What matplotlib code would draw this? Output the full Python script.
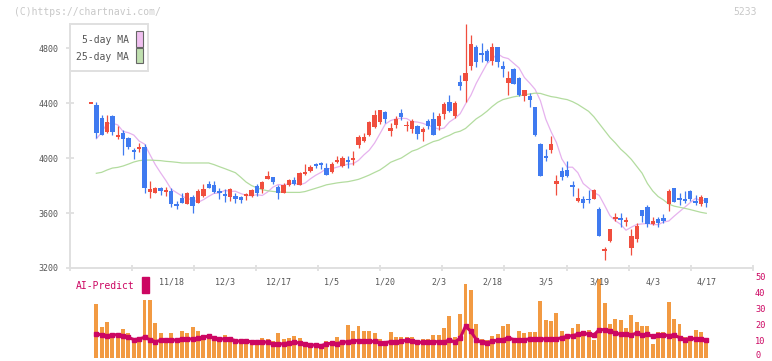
import numpy as np
import pandas as pd
import matplotlib
matplotlib.use('Agg')
import matplotlib.pyplot as plt
import matplotlib.transforms as mtransforms
from matplotlib.patches import Rectangle

# daily candles, 10/27 .. 4/17 (index 0 is the reference dash)
open_ = [4400, 4388, 4291, 4189, 4305, 4155, 4184, 4143, 4058, 4072,
         4080, 3750, 3748, 3784, 3755, 3760, 3668, 3709, 3668, 3716,
         3675, 3724, 3811, 3804, 3762, 3738, 3714, 3724, 3716, 3726,
         3724, 3796, 3777, 3850, 3862, 3791, 3748, 3804, 3838, 3806,
         3884, 3905, 3949, 3961, 3927, 3898, 3970, 3942, 3978, 3988,
         4097, 4126, 4167, 4228, 4264, 4332, 4199, 4243, 4327, 4235,
         4213, 4233, 4187, 4269, 4284, 4235, 4320, 4407, 4305, 4553,
         4560, 4672, 4807, 4757, 4778, 4708, 4805, 4669, 4545, 4647,
         4579, 4453, 4451, 4371, 4102, 4015, 4061, 3814, 3903, 3913,
         3802, 3690, 3702, 3700, 3704, 3627, 3321, 3396, 3563, 3556,
         3540, 3348, 3409, 3622, 3641, 3522, 3554, 3564, 3663, 3782,
         3706, 3694, 3758, 3690, 3668, 3707]
high = [4400, 4407, 4310, 4313, 4313, 4233, 4204, 4155, 4075, 4107,
        4099, 3833, 3792, 3792, 3792, 3784, 3690, 3743, 3753, 3733,
        3777, 3811, 3835, 3835, 3784, 3775, 3782, 3743, 3724, 3748,
        3775, 3808, 3833, 3905, 3862, 3804, 3816, 3845, 3862, 3896,
        3956, 3946, 3963, 3971, 3963, 3968, 4015, 4015, 4015, 4051,
        4167, 4182, 4272, 4349, 4349, 4344, 4252, 4305, 4359, 4269,
        4281, 4240, 4223, 4286, 4332, 4325, 4407, 4458, 4415, 4604,
        4975, 4894, 4822, 4836, 4793, 4836, 4805, 4703, 4633, 4655,
        4591, 4495, 4470, 4371, 4107, 4066, 4160, 3876, 3937, 3978,
        3830, 3782, 3724, 3767, 3775, 3641, 3353, 3484, 3600, 3600,
        3571, 3484, 3525, 3622, 3658, 3573, 3573, 3595, 3777, 3782,
        3743, 3758, 3767, 3731, 3729, 3707]
low = [4400, 4143, 4165, 4179, 4167, 4136, 4022, 4066, 3995, 4046,
       3748, 3712, 3743, 3731, 3724, 3646, 3627, 3670, 3663, 3602,
       3670, 3719, 3779, 3743, 3704, 3682, 3690, 3670, 3670, 3694,
       3719, 3724, 3748, 3845, 3814, 3699, 3743, 3799, 3804, 3801,
       3876, 3898, 3930, 3922, 3876, 3893, 3961, 3935, 3927, 3947,
       4075, 4114, 4160, 4221, 4247, 4257, 4162, 4221, 4276, 4196,
       4184, 4138, 4126, 4211, 4167, 4204, 4284, 4335, 4293, 4495,
       4410, 4640, 4664, 4701, 4701, 4679, 4664, 4587, 4461, 4536,
       4451, 4417, 4373, 4160, 3872, 3981, 4039, 3734, 3840, 3864,
       3724, 3683, 3634, 3670, 3699, 3433, 3258, 3392, 3540, 3496,
       3508, 3295, 3392, 3537, 3496, 3515, 3501, 3527, 3615, 3678,
       3658, 3670, 3690, 3658, 3653, 3646]
close = [4400, 4184, 4170, 4262, 4189, 4160, 4141, 4083, 4044, 4080,
         3784, 3775, 3782, 3760, 3762, 3663, 3653, 3675, 3743, 3653,
         3760, 3775, 3784, 3755, 3748, 3729, 3775, 3700, 3692, 3731,
         3767, 3748, 3826, 3869, 3826, 3743, 3804, 3838, 3814, 3889,
         3898, 3934, 3944, 3956, 3879, 3956, 3985, 4000, 3973, 4000,
         4155, 4155, 4260, 4313, 4349, 4286, 4216, 4284, 4301, 4238,
         4269, 4172, 4211, 4233, 4170, 4305, 4393, 4342, 4400, 4526,
         4618, 4829, 4701, 4752, 4708, 4805, 4701, 4650, 4582, 4541,
         4458, 4495, 4424, 4167, 3872, 3998, 4102, 3830, 3864, 3872,
         3797, 3709, 3670, 3697, 3767, 3435, 3336, 3484, 3566, 3554,
         3545, 3433, 3506, 3581, 3518, 3539, 3527, 3544, 3758, 3683,
         3702, 3690, 3700, 3670, 3716, 3670]
# closes before the first candle (feed the 5-day MA)
prior_close = [3950, 3850, 4250, 4250]

ma25 = [np.nan, 3889, 3896, 3913, 3927, 3932, 3942, 3956, 3971, 3981,
        3985, 3985, 3983, 3981, 3976, 3973, 3969, 3964, 3964, 3964,
        3964, 3964, 3964, 3952, 3937, 3923, 3908, 3893, 3860, 3825,
        3800, 3783, 3770, 3762, 3757, 3753, 3751, 3750, 3750, 3750,
        3756, 3768, 3780, 3792, 3805, 3812, 3819, 3824, 3828, 3836,
        3845, 3860, 3876, 3895, 3913, 3940, 3969, 3985, 4000, 4025,
        4050, 4063, 4083, 4102, 4120, 4130, 4150, 4165, 4185, 4195,
        4215, 4250, 4285, 4310, 4340, 4375, 4405, 4425, 4435, 4445,
        4452, 4460, 4466, 4472, 4470, 4458, 4447, 4441, 4432, 4425,
        4410, 4390, 4365, 4340, 4300, 4250, 4200, 4150, 4110, 4065,
        4030, 3990, 3940, 3890, 3815, 3760, 3720, 3695, 3665, 3650,
        3642, 3634, 3625, 3615, 3605, 3598]

volume = [0, 33.5, 19.2, 22.3, 14.6, 14.6, 18.3, 15.4, 12.1, 12.5,
          36, 36, 21.9, 15.4, 12.1, 15.4, 12.1, 16.7, 15.4, 19.2,
          17.1, 12.1, 13.3, 11.3, 11.3, 14.6, 13.3, 12.1, 12.1, 12.1,
          8.3, 9.6, 12.5, 12.1, 10.8, 15.8, 12.1, 12.5, 13.8, 12.5,
          10, 7.1, 7.5, 7.9, 10.8, 10.8, 13.3, 10.8, 20.8, 17.1,
          20, 17.1, 17.1, 15.8, 12, 10.5, 16.5, 13.3, 13.3, 12.9,
          13.3, 10.6, 12, 12, 14.4, 14.4, 18.8, 26.3, 13.3, 27.7,
          46.5, 42.3, 21, 12, 11.2, 13.8, 15.2, 20.2, 21.5, 10.6,
          17, 15.4, 16, 16.5, 35.8, 24, 23.3, 27.9, 17, 12.9,
          19, 21, 16.5, 17.5, 11.5, 49.6, 34.2, 21, 24.6, 24,
          19, 27.1, 22.7, 20.2, 20.2, 9, 16.3, 16, 35.2, 24.6,
          21, 13.3, 12.9, 17.5, 16, 12.7]
ai_predict = [np.nan, 15.2, 14.4, 14, 14.4, 14.6, 14, 12.9, 11.5, 11.9,
              12.9, 11.5, 10.2, 11, 11, 11.2, 11.2, 11.9, 11.9, 11.9,
              12.3, 12.9, 13.8, 12.3, 11.9, 11.9, 11.9, 10.8, 10.4, 10.4,
              10.2, 9.8, 10.2, 9.8, 8.5, 8.5, 9, 9.4, 9.8, 9.4,
              8.5, 8.1, 8.1, 7.7, 8.75, 9.2, 9, 9.8, 10.2, 10.8,
              10.8, 10.8, 10.4, 10.4, 9.6, 9.6, 10.2, 9.8, 10.6, 11,
              10.6, 9.8, 9.8, 10.2, 10.2, 10.2, 9.8, 11.5, 9.8, 12.5,
              19.8, 16.7, 11.5, 9.8, 9.4, 10.6, 11, 11.5, 12.7, 11.5,
              11.5, 11.5, 11.9, 11.9, 11.9, 11.9, 11.9, 11.9, 12.7, 13.5,
              14, 14.8, 15.6, 14.8, 14.4, 17.7, 17.7, 16.9, 15.6, 14.8,
              14.8, 14.4, 15.6, 14.4, 14.8, 13.5, 14.4, 14.4, 14, 14.4,
              12.7, 11.5, 12.3, 11.9, 11.9, 11]

date_idx = [15, 25, 35, 45, 55, 65, 75, 85, 95, 105, 115]
date_labels = ['11/18', '12/3', '12/17', '1/5', '1/20', '2/3', '2/18',
               '3/5', '3/19', '4/3', '4/17']
price_ticks = [3200, 3600, 4000, 4400, 4800]
ai_ticks = [0, 10, 20, 30, 40, 50]

RED = '#f04e3e'
BLUE = '#3f7af0'
PINK = '#e6b2ee'
GREEN = '#b3dc9f'
ORANGE = '#f29a42'
CRIMSON = '#cc0662'
GRID = '#e0e0e0'
TXT = '#555555'

plt.rcParams['font.family'] = 'DejaVu Sans Mono'

W, H = 772, 361
fig = plt.figure(figsize=(W / 100, H / 100), dpi=100)

def fx(px):
    return px / W

def fy(py):
    return 1 - py / H

x0, x1 = 70, 752.7
ax = fig.add_axes([fx(x0), fy(268), fx(x1) - fx(x0), fy(24) - fy(268)])
axv = fig.add_axes([fx(x0), fy(358), fx(x1) - fx(x0), fy(278) - fy(358)])

o = np.array(open_, float)
h = np.array(high, float)
l = np.array(low, float)
c = np.array(close, float)
days = np.arange(len(c))
xlim = (-3.925, 123.68)

# moving averages
allc = pd.Series(np.r_[prior_close, c])
ma5 = allc.rolling(5).mean().shift(1).values[len(prior_close):]
ax.plot(days, ma5, color=PINK, lw=0.9, zorder=1)
ax.plot(days, ma25, color=GREEN, lw=0.9, zorder=1)

# candles
cols = np.where(c >= o, RED, BLUE)
ax.vlines(days, l, h, colors=cols, lw=0.9, zorder=2)
bh = np.maximum(np.abs(c - o), 14)
ax.bar(days, bh, bottom=(o + c) / 2 - bh / 2, width=0.82, color=cols,
       lw=0, zorder=3)

ax.set_xlim(xlim)
ax.set_ylim(3200, 4975)
ax.set_yticks(price_ticks)
ax.set_xticks(np.linspace(xlim[0], xlim[1], 12))
ax.set_xticklabels([])
for s in ['top', 'right']:
    ax.spines[s].set_visible(False)
for s in ['left', 'bottom']:
    ax.spines[s].set_color(GRID)
    ax.spines[s].set_linewidth(1.4)
ax.tick_params(axis='y', direction='inout', length=6, width=1.2,
               color='#dddddd', labelsize=6, labelcolor=TXT, pad=5)
ax.tick_params(axis='x', direction='inout', length=5, width=1.2,
               color='#dddddd')

# volume + AI-Predict
axv.bar(days, volume, width=0.74, color=ORANGE, lw=0)
axv.plot(days, ai_predict, color=CRIMSON, lw=2.2, marker='s', ms=2.2)
axv.set_xlim(xlim)
axv.set_ylim(0, 50)
for s in axv.spines.values():
    s.set_visible(False)
axv.set_xticks([])
axv.set_yticks([])

# right-hand scale of the AI-Predict line
for v in ai_ticks:
    py = min(358 - v * 1.6, 355.5)
    fig.text(fx(755), fy(py), str(v), fontsize=6.2, color=CRIMSON,
             ha='left', va='center')

trans = mtransforms.blended_transform_factory(axv.transData, axv.transAxes)
for i, lab in zip(date_idx, date_labels):
    axv.text(i, 0.95, lab, transform=trans, ha='center', va='center',
             fontsize=6, color=TXT)

fig.text(fx(76), fy(286), 'AI-Predict', color=CRIMSON, fontsize=7,
         va='center', ha='left')
fig.add_artist(Rectangle((fx(142), fy(293)), fx(149) - fx(142),
                         fy(277) - fy(293), transform=fig.transFigure,
                         color=CRIMSON))

# legend box
fig.add_artist(Rectangle((fx(70), fy(71)), fx(148) - fx(70), fy(24) - fy(71),
                         transform=fig.transFigure, fc='white', ec=GRID,
                         lw=1.4, zorder=5))
fig.text(fx(129), fy(40), '5-day MA', fontsize=7, color=TXT, ha='right',
         va='center', zorder=6)
fig.text(fx(129), fy(57), '25-day MA', fontsize=7, color=TXT, ha='right',
         va='center', zorder=6)
fig.add_artist(Rectangle((fx(136), fy(47)), fx(143) - fx(136), fy(31) - fy(47),
                         transform=fig.transFigure, fc='#f0c0f0', ec='#666666',
                         lw=0.8, zorder=6))
fig.add_artist(Rectangle((fx(136), fy(63)), fx(143) - fx(136), fy(48) - fy(63),
                         transform=fig.transFigure, fc='#c0e0b0', ec='#666666',
                         lw=0.8, zorder=6))

fig.text(fx(14), fy(12), '(C)https://chartnavi.com/', fontsize=7,
         color='#c8c8c8', va='center', ha='left')
fig.text(fx(757), fy(12), '5233', fontsize=7, color='#c8c8c8', va='center',
         ha='right')

fig.savefig('out.png', dpi=100)
